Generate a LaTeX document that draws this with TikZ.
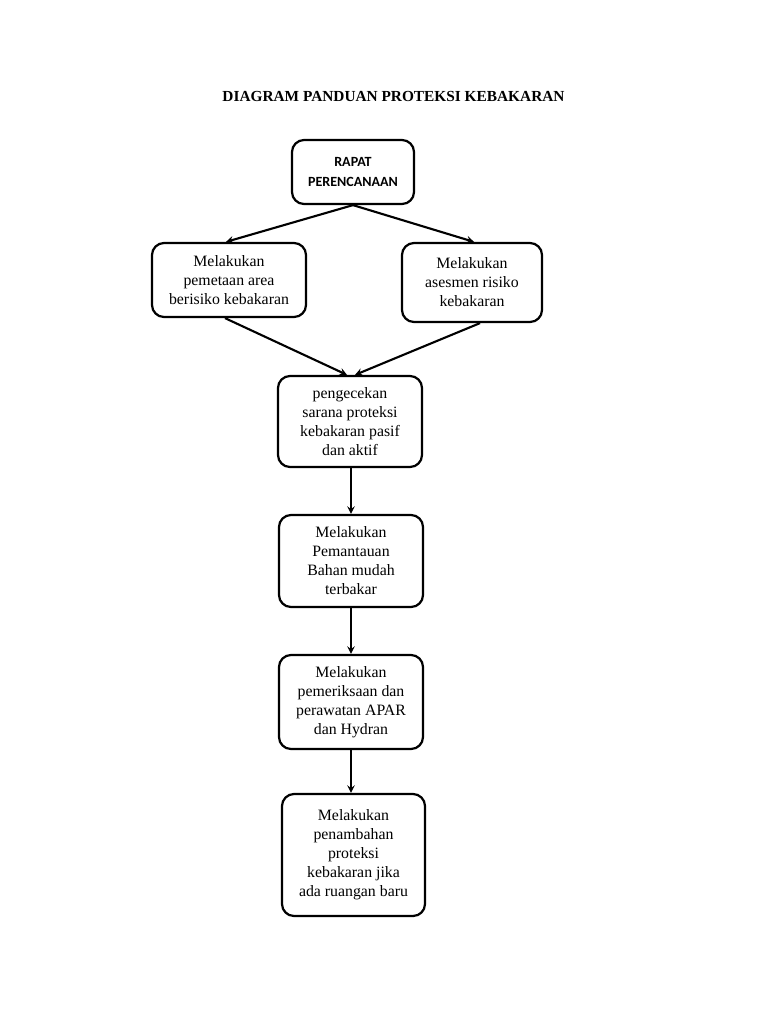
\documentclass[tikz,border=0pt]{standalone}
\usepackage{fontspec}
\setmainfont{Liberation Serif}
\newfontfamily\boxsans{Carlito}
\usepackage{tikz}
\tikzset{
  kotak/.style={draw, line width=1.9pt, rounded corners=0.36cm, align=center,
    font=\fontsize{13.5}{16.2}\selectfont, inner sep=2pt},
  panah/.style={->, line width=1.8pt, >=stealth}
}

\begin{document}
\begin{tikzpicture}[x=0.03cm,y=-0.03cm]
                \useasboundingbox (0,0) rectangle (768,1024);
                \node (judul) at (393.5,96) {\fontsize{13.1}{15}\selectfont\bfseries DIAGRAM PANDUAN PROTEKSI KEBAKARAN};
                \node [kotak, minimum width=3.66cm, minimum height=1.92cm, font=\boxsans\bfseries\fontsize{12}{17}\selectfont] (rapat) at (353,172) {RAPAT\\PERENCANAAN};
                \node [kotak, minimum width=4.62cm, minimum height=2.22cm] (pemetaan) at (229,280) {Melakukan\\pemetaan area\\berisiko kebakaran};
                \node [kotak, minimum width=4.2cm, minimum height=2.37cm] (asesmen) at (472,282.5) {Melakukan\\asesmen risiko\\kebakaran};
                \node [kotak, minimum width=4.32cm, minimum height=2.73cm] (sarana) at (350,421.5) {pengecekan\\sarana proteksi\\kebakaran pasif\\dan aktif};
                \node [kotak, minimum width=4.32cm, minimum height=2.76cm] (pemantauan) at (351,561) {Melakukan\\Pemantauan\\Bahan mudah\\terbakar};
                \node [kotak, minimum width=4.32cm, minimum height=2.82cm] (apar) at (351,702) {Melakukan\\pemeriksaan dan\\perawatan APAR\\dan Hydran};
                \node [kotak, minimum width=4.29cm, minimum height=3.66cm] (tambah) at (353.5,855) {Melakukan\\penambahan\\proteksi\\kebakaran jika\\ada ruangan baru};
                \draw [panah] (rapat.south) -- ([xshift=-0.09cm]pemetaan.north);
                \draw [panah] (rapat.south) -- ([xshift=0.06cm]asesmen.north);
                \draw [panah] ([xshift=-0.12cm]pemetaan.south) -- ([xshift=-0.09cm]sarana.north);
                \draw [panah] ([xshift=0.24cm]asesmen.south) -- ([xshift=0.15cm]sarana.north);
                \draw [panah] ([xshift=0.03cm]sarana.south) -- (pemantauan.north);
                \draw [panah] (pemantauan.south) -- (apar.north);
                \draw [panah] (apar.south) -- ([xshift=-0.075cm]tambah.north);
            \end{tikzpicture}
\end{document}
